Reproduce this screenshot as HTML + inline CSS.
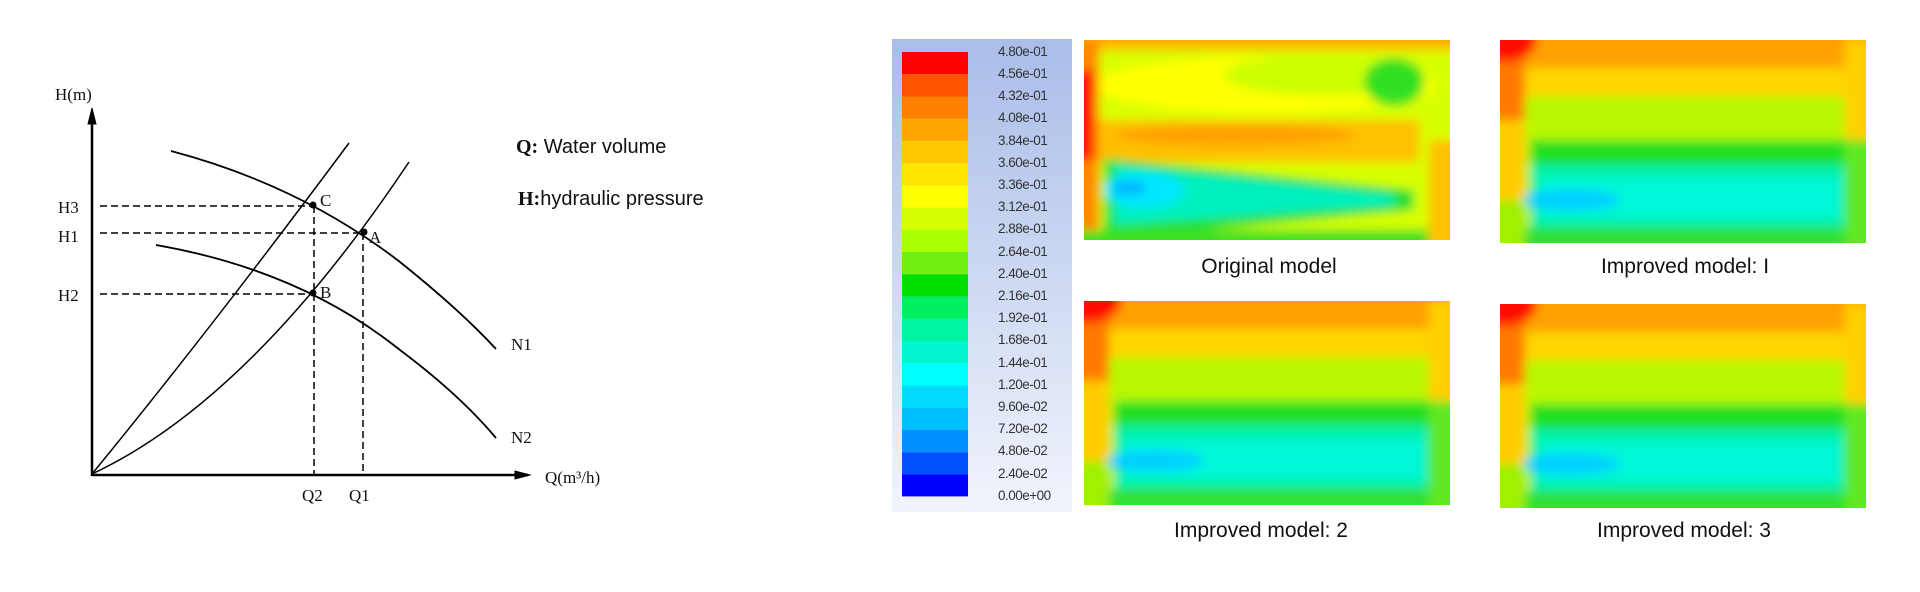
<!DOCTYPE html>
<html><head><meta charset="utf-8"><style>
html,body{margin:0;padding:0;background:#fff;}
body{width:1920px;height:592px;position:relative;overflow:hidden;font-family:"Liberation Sans",sans-serif;}
.cap{position:absolute;font-size:21px;color:#111;transform:translateX(-50%);white-space:nowrap;}
.cb{position:absolute;left:892px;top:39px;width:180px;height:473px;background:linear-gradient(#a9bde9,#f1f4fb);}
.lbl{position:absolute;left:998px;font-size:13.5px;color:#333;letter-spacing:-0.5px;}
</style></head><body>
<svg width="960" height="592" style="position:absolute;left:0;top:0" font-family="Liberation Serif, serif">
<g stroke="#000" fill="none">
<line x1="92" y1="117" x2="92" y2="476" stroke-width="2.5"/>
<line x1="92" y1="475" x2="528" y2="475" stroke-width="2.5"/>
<polygon points="92,108 88,124 96,124" fill="#000"/>
<polygon points="530,475 515,471 515,479" fill="#000"/>
<path d="M92,474 Q210,330 349,143" stroke-width="1.5"/>
<path d="M92,474 Q250,400 409,162" stroke-width="1.5"/>
<path d="M171,151 Q300,185 400,262 Q460,310 496,349" stroke-width="1.8"/>
<path d="M156,245 Q300,270 400,350 Q460,395 496,438" stroke-width="1.8"/>
<g stroke-dasharray="7,4" stroke-width="1.5">
<line x1="100" y1="206" x2="313" y2="206"/>
<line x1="100" y1="233" x2="364" y2="233"/>
<line x1="100" y1="294" x2="313" y2="294"/>
<line x1="314" y1="206" x2="314" y2="474"/>
<line x1="363" y1="233" x2="363" y2="474"/>
</g>
</g>
<g fill="#000"><circle cx="313" cy="205" r="3.5"/><circle cx="364" cy="232" r="3.5"/><circle cx="313" cy="293" r="3.5"/></g>
<g font-size="17" fill="#111">
<text x="55" y="100">H(m)</text>
<text x="58" y="213">H3</text><text x="58" y="242">H1</text><text x="58" y="301">H2</text>
<text x="320" y="206">C</text><text x="369" y="243">A</text><text x="320" y="298">B</text>
<text x="511" y="350">N1</text><text x="511" y="443">N2</text>
<text x="302" y="501">Q2</text><text x="349" y="501">Q1</text>
<text x="545" y="483">Q(m³/h)</text>
</g>
<g font-family="Liberation Sans, sans-serif" font-size="20" fill="#111">
<text x="516" y="153"><tspan font-family="Liberation Serif" font-weight="bold">Q:</tspan> Water volume</text>
<text x="518" y="205"><tspan font-family="Liberation Serif" font-weight="bold">H:</tspan>hydraulic pressure</text>
</g>
</svg>

<div class="cb"></div>
<svg width="70" height="446" style="position:absolute;left:902px;top:52px">
<g>
<rect y="0" width="66" height="22.2" fill="#ff0000"/>
<rect y="22.2" width="66" height="22.3" fill="#ff5500"/>
<rect y="44.5" width="66" height="22.2" fill="#ff8000"/>
<rect y="66.7" width="66" height="22.2" fill="#ffa500"/>
<rect y="88.9" width="66" height="22.3" fill="#ffc800"/>
<rect y="111.2" width="66" height="22.2" fill="#ffe400"/>
<rect y="133.4" width="66" height="22.2" fill="#ffff00"/>
<rect y="155.6" width="66" height="22.3" fill="#d4ff00"/>
<rect y="177.9" width="66" height="22.2" fill="#aaff00"/>
<rect y="200.1" width="66" height="22.2" fill="#6eef10"/>
<rect y="222.3" width="66" height="22.3" fill="#00e000"/>
<rect y="244.6" width="66" height="22.2" fill="#00f060"/>
<rect y="266.8" width="66" height="22.2" fill="#00f5a0"/>
<rect y="289" width="66" height="22.3" fill="#00f5d0"/>
<rect y="311.3" width="66" height="22.2" fill="#00ffff"/>
<rect y="333.5" width="66" height="22.2" fill="#00dcff"/>
<rect y="355.7" width="66" height="22.3" fill="#00bfff"/>
<rect y="378" width="66" height="22.2" fill="#0090ff"/>
<rect y="400.2" width="66" height="22.2" fill="#0050ff"/>
<rect y="422.4" width="66" height="22" fill="#0000ff"/>
</g></svg>
<div class="lbl" style="top:44px">4.80e-01</div>
<div class="lbl" style="top:66px">4.56e-01</div>
<div class="lbl" style="top:88px">4.32e-01</div>
<div class="lbl" style="top:110px">4.08e-01</div>
<div class="lbl" style="top:133px">3.84e-01</div>
<div class="lbl" style="top:155px">3.60e-01</div>
<div class="lbl" style="top:177px">3.36e-01</div>
<div class="lbl" style="top:199px">3.12e-01</div>
<div class="lbl" style="top:221px">2.88e-01</div>
<div class="lbl" style="top:244px">2.64e-01</div>
<div class="lbl" style="top:266px">2.40e-01</div>
<div class="lbl" style="top:288px">2.16e-01</div>
<div class="lbl" style="top:310px">1.92e-01</div>
<div class="lbl" style="top:332px">1.68e-01</div>
<div class="lbl" style="top:355px">1.44e-01</div>
<div class="lbl" style="top:377px">1.20e-01</div>
<div class="lbl" style="top:399px">9.60e-02</div>
<div class="lbl" style="top:421px">7.20e-02</div>
<div class="lbl" style="top:443px">4.80e-02</div>
<div class="lbl" style="top:466px">2.40e-02</div>
<div class="lbl" style="top:488px">0.00e+00</div>

<svg width="0" height="0" style="position:absolute"><defs>
<filter id="bl" x="-10%" y="-10%" width="120%" height="120%"><feGaussianBlur stdDeviation="5"/></filter>
<g id="imp">
<rect x="-20" y="-20" width="410" height="250" fill="#c8f200"/>
<rect x="-20" y="55" width="410" height="45" fill="#b8f800"/>
<rect x="-20" y="-20" width="410" height="50" fill="#ffa000"/>
<rect x="-20" y="28" width="410" height="28" fill="#ffd600"/>
<rect x="30" y="100" width="330" height="26" fill="#20e020"/>
<rect x="30" y="124" width="320" height="66" fill="#00f0a8"/>
<rect x="40" y="138" width="300" height="40" fill="#00f8d8"/>
<ellipse cx="70" cy="160" rx="50" ry="11" fill="#00d0ff"/>
<rect x="-20" y="188" width="410" height="40" fill="#30e030"/>
<rect x="-20" y="0" width="45" height="80" fill="#ff7a00"/>
<rect x="-20" y="80" width="45" height="80" fill="#ffcc00"/>
<rect x="-20" y="160" width="45" height="60" fill="#a0f000"/>
<rect x="345" y="0" width="40" height="100" fill="#ffd000"/>
<rect x="345" y="100" width="40" height="120" fill="#60e820"/>
<ellipse cx="5" cy="0" rx="32" ry="22" fill="#ff1000"/>
</g>
<clipPath id="cp"><rect width="366" height="204"/></clipPath>
</defs></svg>

<svg width="366" height="200" style="position:absolute;left:1084px;top:40px">
<g clip-path="url(#cp)"><g filter="url(#bl)">
<rect x="-20" y="-20" width="410" height="250" fill="#d8ff00"/>
<rect x="-20" y="-20" width="410" height="30" fill="#ffb000"/>
<ellipse cx="180" cy="45" rx="170" ry="28" fill="#ffff00"/>
<ellipse cx="240" cy="35" rx="100" ry="20" fill="#ccff00"/>
<ellipse cx="310" cy="42" rx="30" ry="24" fill="#30e020"/>
<rect x="15" y="80" width="320" height="42" fill="#ffc000"/>
<ellipse cx="150" cy="95" rx="120" ry="10" fill="#ffa000"/>
<rect x="-20" y="0" width="35" height="200" fill="#ff8800"/>
<rect x="-20" y="30" width="30" height="90" fill="#ff1000"/>
<path d="M20,118 L330,150 L330,170 L20,200 Z" fill="#20e030"/>
<path d="M30,125 L310,155 L310,165 L30,185 Z" fill="#00f0c0"/>
<ellipse cx="60" cy="150" rx="40" ry="18" fill="#00e8ff"/>
<ellipse cx="45" cy="148" rx="18" ry="8" fill="#00b8ff"/>
<rect x="-20" y="190" width="410" height="30" fill="#40e020"/>
<rect x="345" y="100" width="40" height="110" fill="#ffc000"/>
</g></g></svg>
<svg width="367" height="203" style="position:absolute;left:1500px;top:40px"><g clip-path="url(#cp)"><g filter="url(#bl)"><use href="#imp"/></g></g></svg>
<svg width="366" height="204" style="position:absolute;left:1084px;top:301px"><g clip-path="url(#cp)"><g filter="url(#bl)"><use href="#imp"/></g></g></svg>
<svg width="368" height="204" style="position:absolute;left:1500px;top:304px"><g clip-path="url(#cp)"><g filter="url(#bl)"><use href="#imp"/></g></g></svg>

<div class="cap" style="left:1269px;top:255px">Original model</div>
<div class="cap" style="left:1685px;top:255px">Improved model: I</div>
<div class="cap" style="left:1261px;top:519px">Improved model: 2</div>
<div class="cap" style="left:1684px;top:519px">Improved model: 3</div>
</body></html>
